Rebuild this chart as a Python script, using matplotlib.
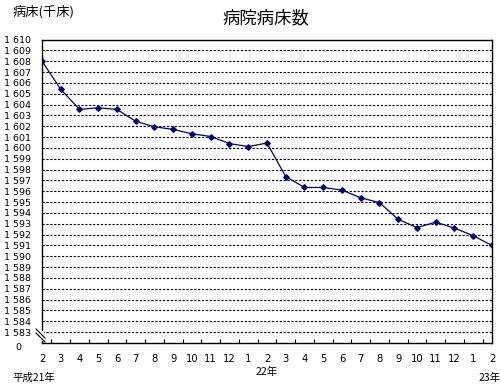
import matplotlib
matplotlib.use('Agg')
import matplotlib.pyplot as plt
import numpy as np

plt.rcParams['font.family'] = ['Noto Sans CJK JP', 'DejaVu Sans']

# 平成21年2月 ～ 平成23年2月
months = ['2', '3', '4', '5', '6', '7', '8', '9', '10', '11', '12', '1',
          '2', '3', '4', '5', '6', '7', '8', '9', '10', '11', '12', '1', '2']
beds = [1608.0, 1605.4, 1603.55, 1603.7, 1603.55, 1602.45, 1601.95, 1601.7,
        1601.3, 1601.05, 1600.4, 1600.12, 1600.45, 1597.35, 1596.35, 1596.35,
        1596.1, 1595.4, 1594.95, 1593.4, 1592.65, 1593.15, 1592.6, 1591.9, 1591.0]
y_ticks = list(range(1583, 1611))
y_labels = ['1 %03d' % (v - 1000) for v in y_ticks]

W, H = 502, 384
fig = plt.figure(figsize=(W / 100, H / 100), dpi=100)
ax = fig.add_axes([42 / W, 41 / H, 450 / W, 303.5 / H])

x = np.arange(len(beds))
ax.plot(x, beds, color='#000080', linewidth=0.9, marker='D', markersize=2.8)

ax.set_xlim(0, len(beds) - 1)
ax.set_ylim(1582, 1610)

# 破線のグリッド
for v in y_ticks[:-1]:
    ax.axhline(v, color='black', linewidth=0.8, linestyle=(0, (2.0, 1.5)), zorder=0)

ax.set_yticks(y_ticks)
ax.set_yticklabels(y_labels, fontsize=6.8, family='DejaVu Sans')
ax.tick_params(axis='y', length=0, pad=8)

ax.set_xticks(x)
ax.set_xticklabels(months, fontsize=7.2, family='DejaVu Sans')
ax.tick_params(axis='x', which='major', length=0, pad=8)
ax.set_xticks(x[:-1] + 0.5, minor=True)
ax.tick_params(axis='x', which='minor', direction='in', length=3, width=0.8)

for s in ax.spines.values():
    s.set_linewidth(1.0)
    s.set_color('black')

# 原点の 0
fig.text(18 / W, 1 - 347 / H, '0', fontsize=6.8, family='DejaVu Sans',
         va='center', ha='center')

# 軸の省略記号
ax.plot([42 / W, 42 / W], [1 - 332 / H, 1 - 339 / H], transform=fig.transFigure,
        color='white', linewidth=2.0, clip_on=False, zorder=5)
for dy in (0, 4):
    ax.plot([36 / W, 45 / W], [1 - (329 + dy) / H, 1 - (338 + dy) / H],
            transform=fig.transFigure, color='black', linewidth=0.8,
            clip_on=False, zorder=6)

fig.text(13 / W, 1 - 12 / H, '病床(千床)', fontsize=9.5, va='center', ha='left')
fig.text(266 / W, 1 - 18.5 / H, '病院病床数', fontsize=12.5, va='center', ha='center')
fig.text(12 / W, 1 - 378 / H, '平成21年', fontsize=7.5, va='center', ha='left')
fig.text(267 / W, 1 - 372 / H, '22年', fontsize=7.5, va='center', ha='center')
fig.text(501 / W, 1 - 377.5 / H, '23年', fontsize=7.5, va='center', ha='right')

fig.savefig('out.png', dpi=100)
